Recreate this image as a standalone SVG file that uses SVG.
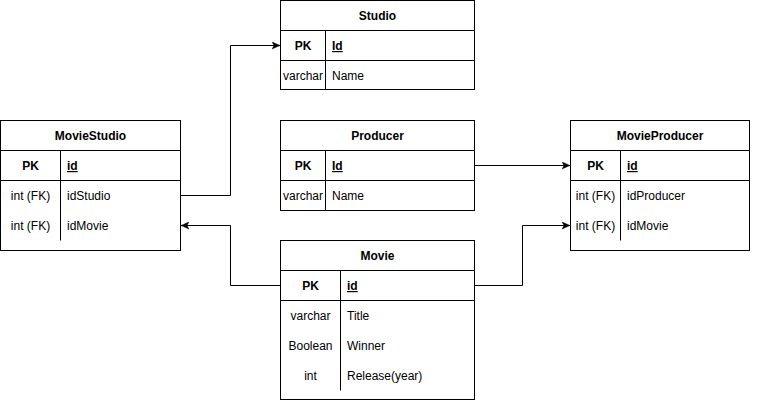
<svg xmlns="http://www.w3.org/2000/svg" width="772" height="401" viewBox="0 0 772 401">
<defs>
<style>
.box{fill:#fff;stroke:#000;stroke-width:1}
.ln{fill:none;stroke:#000;stroke-width:1}
text{font-family:"Liberation Sans",Arial,Helvetica,sans-serif;font-size:12px;fill:#000}
.h{font-weight:bold;text-anchor:middle}
.k{text-anchor:middle}
.pk{font-weight:bold;text-anchor:middle}
.u{text-decoration:underline;font-weight:bold}
.conn{fill:none;stroke:#000;stroke-width:1}
</style>
<marker id="arr" viewBox="0 0 10 10" refX="10" refY="5" markerWidth="8" markerHeight="8" markerUnits="userSpaceOnUse" orient="auto">
<path d="M10,5 L0,0.5 L2.5,5 L0,9.5 Z" fill="#000" stroke="#000" stroke-width="0.5"/>
</marker>
</defs>

<g id="connectors">
<path class="conn" d="M181,195.5 H230.5 V45.5 H280" marker-end="url(#arr)"/>
<path class="conn" d="M280.5,285.5 H230.5 V225.5 H181" marker-end="url(#arr)"/>
<path class="conn" d="M475,165.5 H570" marker-end="url(#arr)"/>
<path class="conn" d="M475,285.5 H522.5 V225.5 H570" marker-end="url(#arr)"/>
</g>

<g id="Studio">
<rect class="box" x="280.5" y="0.5" width="194" height="89"/>
<path class="ln" d="M280.5,30.5 H474.5 M280.5,60.5 H474.5 M325.5,30.5 V89.5"/>
<text class="h" x="377.5" y="20">Studio</text>
<text class="pk" x="303" y="50">PK</text>
<text class="u" x="332" y="50">Id</text>
<text class="k" x="303" y="80">varchar</text>
<text x="332" y="80">Name</text>
</g>

<g id="MovieStudio">
<rect class="box" x="0.5" y="120.5" width="180" height="130"/>
<path class="ln" d="M0.5,150.5 H180.5 M0.5,180.5 H180.5 M60.5,150.5 V240.5"/>
<text class="h" x="90.5" y="140">MovieStudio</text>
<text class="pk" x="30.5" y="170">PK</text>
<text class="u" x="67" y="170">id</text>
<text class="k" x="30.5" y="200">int (FK)</text>
<text x="67" y="200">idStudio</text>
<text class="k" x="30.5" y="230">int (FK)</text>
<text x="67" y="230">idMovie</text>
</g>

<g id="Producer">
<rect class="box" x="280.5" y="120.5" width="194" height="90"/>
<path class="ln" d="M280.5,150.5 H474.5 M280.5,180.5 H474.5 M325.5,150.5 V210.5"/>
<text class="h" x="377.5" y="140">Producer</text>
<text class="pk" x="303" y="170">PK</text>
<text class="u" x="332" y="170">Id</text>
<text class="k" x="303" y="200">varchar</text>
<text x="332" y="200">Name</text>
</g>

<g id="MovieProducer">
<rect class="box" x="570.5" y="120.5" width="179" height="130"/>
<path class="ln" d="M570.5,150.5 H749.5 M570.5,180.5 H749.5 M620.5,150.5 V240.5"/>
<text class="h" x="660" y="140">MovieProducer</text>
<text class="pk" x="595.5" y="170">PK</text>
<text class="u" x="627" y="170">id</text>
<text class="k" x="595.5" y="200">int (FK)</text>
<text x="627" y="200">idProducer</text>
<text class="k" x="595.5" y="230">int (FK)</text>
<text x="627" y="230">idMovie</text>
</g>

<g id="Movie">
<rect class="box" x="280.5" y="240.5" width="194" height="159"/>
<path class="ln" d="M280.5,270.5 H474.5 M280.5,300.5 H474.5 M340.5,270.5 V390.5"/>
<text class="h" x="377.5" y="260">Movie</text>
<text class="pk" x="310.5" y="290">PK</text>
<text class="u" x="347" y="290">id</text>
<text class="k" x="310.5" y="320">varchar</text>
<text x="347" y="320">Title</text>
<text class="k" x="310.5" y="350">Boolean</text>
<text x="347" y="350">Winner</text>
<text class="k" x="310.5" y="380">int</text>
<text x="347" y="380">Release(year)</text>
</g>
</svg>
